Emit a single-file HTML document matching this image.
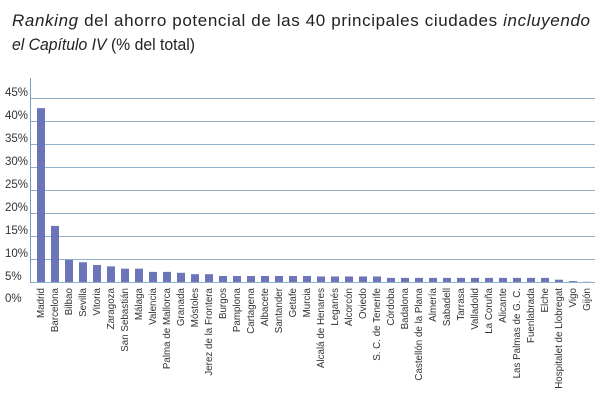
<!DOCTYPE html>
<html><head><meta charset="utf-8"><style>
body{margin:0;background:#fff;width:605px;height:411px;overflow:hidden;font-family:"Liberation Sans",sans-serif}
</style></head><body>
<svg id="c" width="605" height="411">
<text x="12" y="26" font-size="17" fill="#222" textLength="578" lengthAdjust="spacing"><tspan font-style="italic">Ranking</tspan> del ahorro potencial de las 40 principales ciudades <tspan font-style="italic">incluyendo</tspan></text>
<text x="12" y="50" font-size="17" fill="#222" textLength="183" lengthAdjust="spacingAndGlyphs"><tspan font-style="italic">el Capítulo IV</tspan> (% del total)</text>
<g id="grid"></g><g id="bars"></g><g id="labels"></g>
<line x1="30.5" y1="78" x2="30.5" y2="283" stroke="#7a9cc0"/>
</svg>
<script>
const categories=["Madrid","Barcelona","Bilbao","Sevilla","Vitoria","Zaragoza","San Sebastián","Málaga","Valencia","Palma de Mallorca","Granada","Móstoles","Jerez de la Frontera","Burgos","Pamplona","Cartagena","Albacete","Santander","Getafe","Murcia","Alcalá de Henares","Leganés","Alcorcón","Oviedo","S. C. de Tenerife","Córdoba","Badalona","Castellón de la Plana","Almería","Sabadell","Tarrasa","Valladolid","La Coruña","Alicante","Las Palmas de G. C.","Fuenlabrada","Elche","Hospitalet de Llobregat","Vigo","Gijón"];
const values=[42.8,17.2,9.8,9.3,8.7,8.4,7.9,7.9,7.2,7.2,7.0,6.7,6.7,6.3,6.3,6.3,6.3,6.3,6.3,6.3,6.2,6.2,6.2,6.2,6.2,5.9,5.9,5.9,5.9,5.9,5.9,5.9,5.9,5.9,5.9,5.9,5.9,5.5,5.2,5.05];
const ticks=[5,10,15,20,25,30,35,40,45];
const tickLabels=["5%","10%","15%","20%","25%","30%","35%","40%","45%"];
const NS="http://www.w3.org/2000/svg";
const y0=282, k=4.6, x0=34, step=14;
const y=v=>y0-(v-5)*k;
const x=i=>x0+i*step;
function mk(t,a,p){const e=document.createElementNS(NS,t);for(const n in a)e.setAttribute(n,a[n]);p.appendChild(e);return e;}
const g=document.getElementById('grid'),b=document.getElementById('bars'),l=document.getElementById('labels');
ticks.forEach((t,i)=>{
 const ln=mk('line',{x1:30,x2:595,y1:y(t)+.5,y2:y(t)+.5,stroke:'#8fb0c8'},g);
 
 
 const tx=mk('text',{x:5,y:y(t)-2,'font-size':11.5,fill:'#333'},g);tx.textContent=tickLabels[i];
 
 
});
const z=mk('text',{x:5,y:302,'font-size':11.5,fill:'#333'},g);z.textContent="0%";


categories.forEach((c,i)=>{
 const r=mk('rect',{x:x(i)+3,y:y(values[i]),width:8,height:y0-y(values[i]),fill:'#6d75b9'},b);
 
 
 const cx=x(i)+10;
 const t=mk('text',{x:0,y:0,'font-size':9.8,fill:'#333','text-anchor':'end',transform:`translate(${cx},288) rotate(-90)`},l);
 t.textContent=c;
 
 
});
</script>
</body></html>
